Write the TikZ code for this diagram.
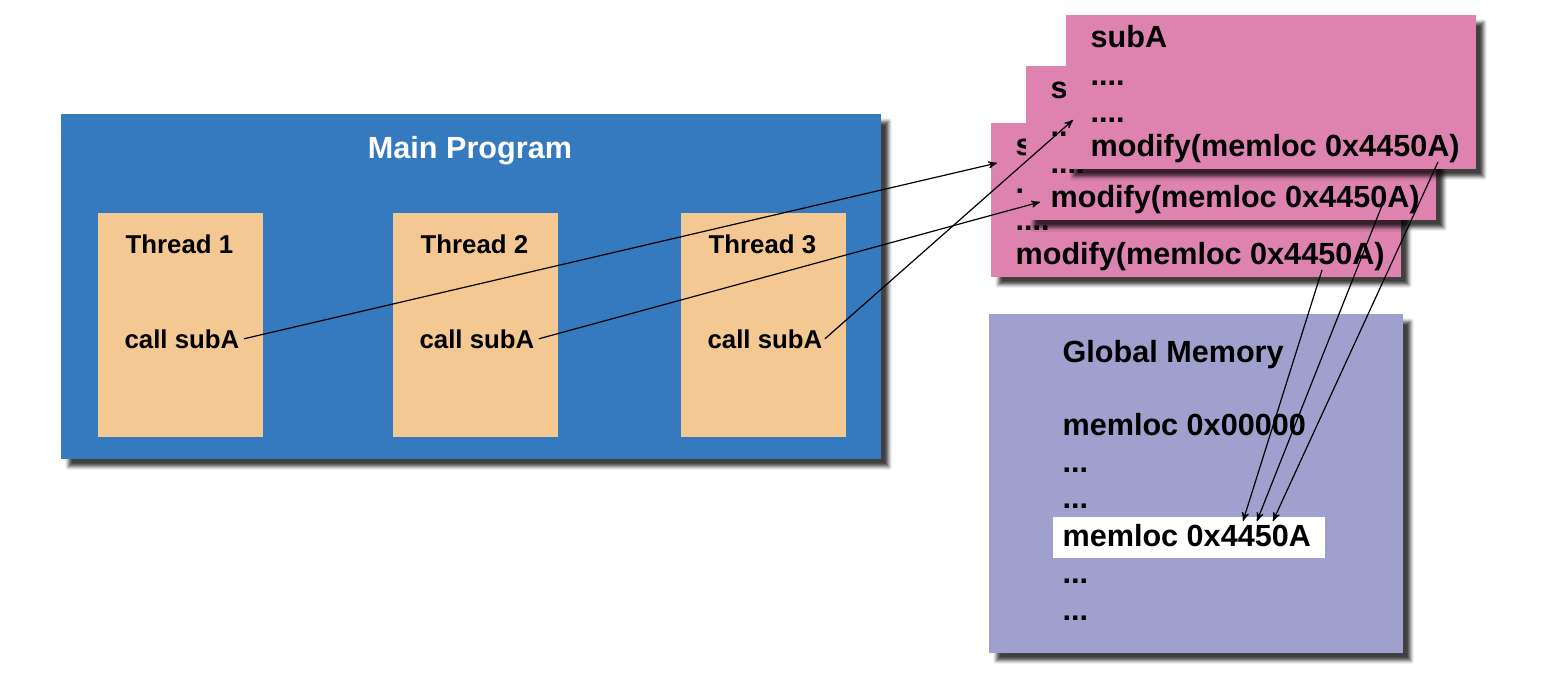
\documentclass[tikz,border=0pt]{standalone}
\usepackage{fontspec}
\setmainfont{Liberation Sans}
\usetikzlibrary{positioning, arrows, shadows.blur}

\definecolor{progblue}{RGB}{53,121,190}
\definecolor{threadtan}{RGB}{244,200,146}
\definecolor{subpink}{RGB}{222,131,176}
\definecolor{memlilac}{RGB}{160,160,206}

\begin{document}
\begin{tikzpicture}[x=0.5pt,y=-0.5pt,->,>=stealth',line width=0.6pt]
        \tikzset{panel/.style={draw=none,inner sep=0,anchor=north west,
                   blur shadow={shadow xshift=4pt,shadow yshift=-4pt,shadow blur radius=1.8pt,shadow opacity=75}},
                 threadbox/.style={draw=none,fill=threadtan,inner sep=0,anchor=north west,
                   minimum width=82.5pt,minimum height=112pt},
                 hitbox/.style={draw=none,fill=white,inner sep=0,anchor=north west,
                   minimum width=136pt,minimum height=20.5pt},
                 rowtext/.style={inner sep=0,anchor=base west,font=\bfseries\fontsize{15.3}{18}\selectfont},
                 threadtext/.style={inner sep=0,anchor=base west,font=\bfseries\fontsize{12.9}{15}\selectfont}}
        \useasboundingbox (0,0) rectangle (1564,698);

        % main program with its threads
        \node[panel,fill=progblue,minimum width=410pt,minimum height=172.5pt] (main) at (60,113) {};
        \node[rowtext,anchor=base,text=white] (maintitle) at (470,158) {Main Program};
        \foreach \i/\x in {1/97,2/392,3/680} {
            \node[threadbox] (thread\i) at (\x,212) {};
            \node[threadtext] (name\i) at (\x+28,253) {Thread \i};
            \node[threadtext] (call\i) at (\x+27,348) {call subA};
        }

        % three copies of subA, back to front
        \foreach \n/\x/\y in {back/990/122,mid/1025/65,front/1065/14} {
            \node[panel,fill=subpink,minimum width=205pt,minimum height=77pt] (\n) at (\x,\y) {};
            \node[rowtext] (\n title) at (\x+25,\y+33) {subA};
            \node[rowtext] (\n dotsa) at (\x+25,\y+71) {....};
            \node[rowtext] (\n dotsb) at (\x+25,\y+108) {....};
            \node[rowtext] (\n mod)   at (\x+25,\y+142) {modify(memloc 0x4450A)};
        }

        % global memory
        \node[panel,fill=memlilac,minimum width=207pt,minimum height=169.5pt] (mem) at (988,313) {};
        \node[rowtext] (memtitle) at (1062,362) {Global Memory};
        \node[rowtext] (loczero)  at (1062,435) {memloc 0x00000};
        \node[rowtext] (gapa)     at (1062,472) {...};
        \node[rowtext] (gapb)     at (1062,508) {...};
        \node[hitbox]  (hit)      at (1052,516) {};
        \node[rowtext] (lochit)   at (1062,546) {memloc 0x4450A};
        \node[rowtext] (gapc)     at (1062,583) {...};
        \node[rowtext] (gapd)     at (1062,620) {...};

        \coordinate (inback)   at (997,163);
        \coordinate (inmid)    at (1040,202);
        \coordinate (infront)  at (1073,120);
        \coordinate (outback)  at (1322,270);
        \coordinate (outmid)   at (1383,203);
        \coordinate (outfront) at (1438,162);
        \coordinate (hitback)  at (1243,521);
        \coordinate (hitmid)   at (1257,521);
        \coordinate (hitfront) at (1273,521);

        \draw ([xshift=2pt]call1.east) -- (inback);
        \draw ([xshift=2pt]call2.east) -- (inmid);
        \draw ([xshift=1pt]call3.east) -- (infront);
        \draw (outback)  -- (hitback);
        \draw (outmid)   -- (hitmid);
        \draw (outfront) -- (hitfront);
    \end{tikzpicture}
\end{document}
